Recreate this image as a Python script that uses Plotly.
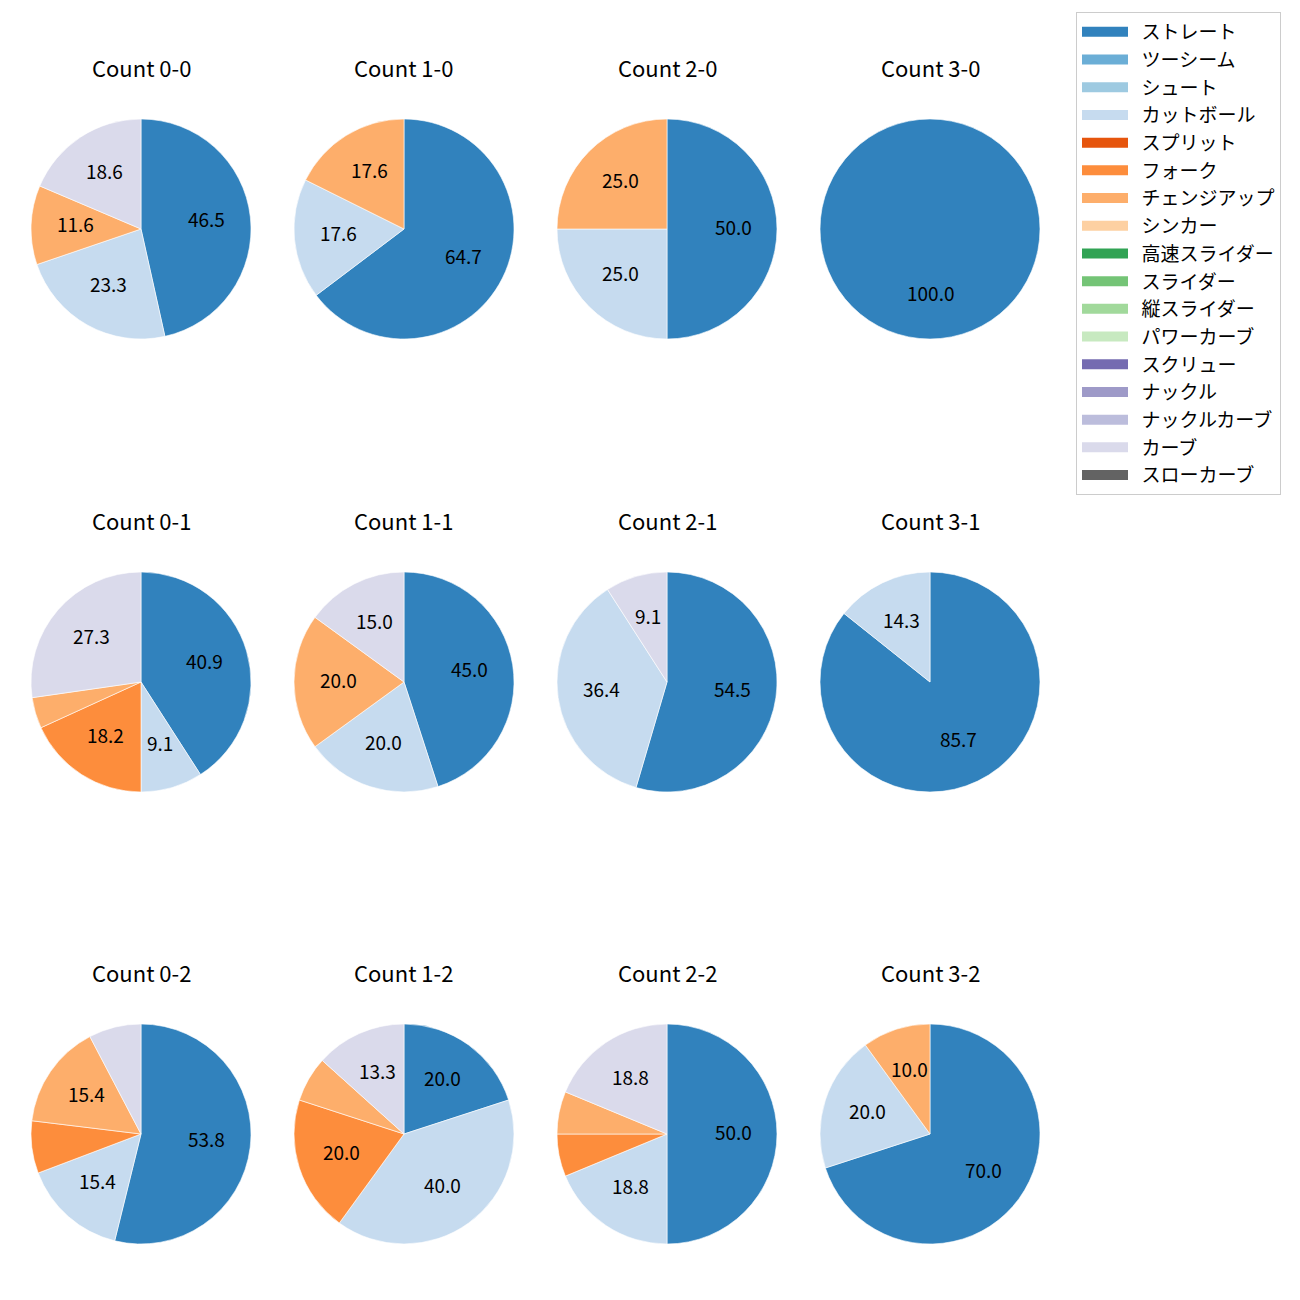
import math
import plotly.graph_objects as go

pitch_types = ["ストレート", "ツーシーム", "シュート", "カットボール", "スプリット", "フォーク",
               "チェンジアップ", "シンカー", "高速スライダー", "スライダー", "縦スライダー",
               "パワーカーブ", "スクリュー", "ナックル", "ナックルカーブ", "カーブ", "スローカーブ"]
pitch_colors = ["#3182bd", "#6baed6", "#9ecae1", "#c6dbef", "#e6550d", "#fd8d3c",
                "#fdae6b", "#fdd0a2", "#31a354", "#74c476", "#a1d99b", "#c7e9c0",
                "#756bb1", "#9e9ac8", "#bcbddc", "#dadaeb", "#636363"]

count_names = ["0-0", "1-0", "2-0", "3-0",
               "0-1", "1-1", "2-1", "3-1",
               "0-2", "1-2", "2-2", "3-2"]

# pitch counts per ball-strike count, in pitch_types order
c_0_0 = [20, 0, 0, 10, 0, 0, 5, 0, 0, 0, 0, 0, 0, 0, 0, 8, 0]
c_1_0 = [11, 0, 0, 3, 0, 0, 3, 0, 0, 0, 0, 0, 0, 0, 0, 0, 0]
c_2_0 = [2, 0, 0, 1, 0, 0, 1, 0, 0, 0, 0, 0, 0, 0, 0, 0, 0]
c_3_0 = [1, 0, 0, 0, 0, 0, 0, 0, 0, 0, 0, 0, 0, 0, 0, 0, 0]
c_0_1 = [9, 0, 0, 2, 0, 4, 1, 0, 0, 0, 0, 0, 0, 0, 0, 6, 0]
c_1_1 = [9, 0, 0, 4, 0, 0, 4, 0, 0, 0, 0, 0, 0, 0, 0, 3, 0]
c_2_1 = [6, 0, 0, 4, 0, 0, 0, 0, 0, 0, 0, 0, 0, 0, 0, 1, 0]
c_3_1 = [6, 0, 0, 1, 0, 0, 0, 0, 0, 0, 0, 0, 0, 0, 0, 0, 0]
c_0_2 = [7, 0, 0, 2, 0, 1, 2, 0, 0, 0, 0, 0, 0, 0, 0, 1, 0]
c_1_2 = [3, 0, 0, 6, 0, 3, 1, 0, 0, 0, 0, 0, 0, 0, 0, 2, 0]
c_2_2 = [8, 0, 0, 3, 0, 1, 1, 0, 0, 0, 0, 0, 0, 0, 0, 3, 0]
c_3_2 = [7, 0, 0, 2, 0, 0, 1, 0, 0, 0, 0, 0, 0, 0, 0, 0, 0]

all_counts = [c_0_0, c_1_0, c_2_0, c_3_0, c_0_1, c_1_1, c_2_1, c_3_1,
              c_0_2, c_1_2, c_2_2, c_3_2]

W = H = 1300
col_cx = [141, 404, 667, 930]
row_cy = [229, 682, 1134]
R = 110
label_min_pct = 8.0
FONT = "Noto Sans CJK JP"

fig = go.Figure()
annotations = []

for idx, (name, vals) in enumerate(zip(count_names, all_counts)):
    row, col = divmod(idx, 4)
    cx, cy = col_cx[col], row_cy[row]
    dom_x = [(cx - R) / W, (cx + R) / W]
    dom_y = [1 - (cy + R) / H, 1 - (cy - R) / H]
    keep = [i for i, v in enumerate(vals) if v > 0]
    fig.add_trace(go.Pie(
        labels=[pitch_types[i] for i in keep], values=[vals[i] for i in keep],
        sort=False, direction="clockwise", rotation=0,
        marker=dict(colors=[pitch_colors[i] for i in keep],
                    line=dict(color="white", width=0.6)),
        textinfo="none", hoverinfo="label+percent", showlegend=False,
        domain=dict(x=dom_x, y=dom_y),
    ))
    total = sum(vals)
    cum = 0.0
    for v in vals:
        if v <= 0:
            continue
        frac = v / total
        mid = cum + frac / 2
        cum += frac
        pct = frac * 100
        if pct < label_min_pct:
            continue
        th = 2 * math.pi * mid
        px = cx + 0.6 * R * math.sin(th)
        py = cy - 0.6 * R * math.cos(th) - 3
        annotations.append(dict(
            x=px / W, y=1 - py / H, xref="paper", yref="paper",
            text=f"{pct:.1f}", showarrow=False,
            font=dict(family=FONT, size=19, color="black"),
            xanchor="center", yanchor="middle"))
    annotations.append(dict(
        x=cx / W, y=1 - (cy - R - 52) / H, xref="paper", yref="paper",
        text=f"Count {name}", showarrow=False,
        font=dict(family=FONT, size=22, color="black"),
        xanchor="center", yanchor="middle"))

# legend entries
for i, (lab, colr) in enumerate(zip(pitch_types, pitch_colors)):
    fig.add_trace(go.Scatter(
        x=[None], y=[None], mode="lines", name="\u00a0\u00a0" + lab,
        line=dict(color=colr, width=14),
        showlegend=True, hoverinfo="skip"))

fig.update_layout(
    width=W, height=H,
    margin=dict(l=0, r=0, t=0, b=0),
    paper_bgcolor="white", plot_bgcolor="white",
    xaxis=dict(visible=False), yaxis=dict(visible=False),
    annotations=annotations,
    font=dict(family=FONT),
    legend=dict(
        x=1076 / W, y=1 - 12 / H, xanchor="left", yanchor="top",
        bordercolor="#cccccc", borderwidth=1, bgcolor="white",
        font=dict(family=FONT, size=19, color="black"),
        tracegroupgap=0, itemwidth=46,
    ),
)

fig.write_html("out.html")
